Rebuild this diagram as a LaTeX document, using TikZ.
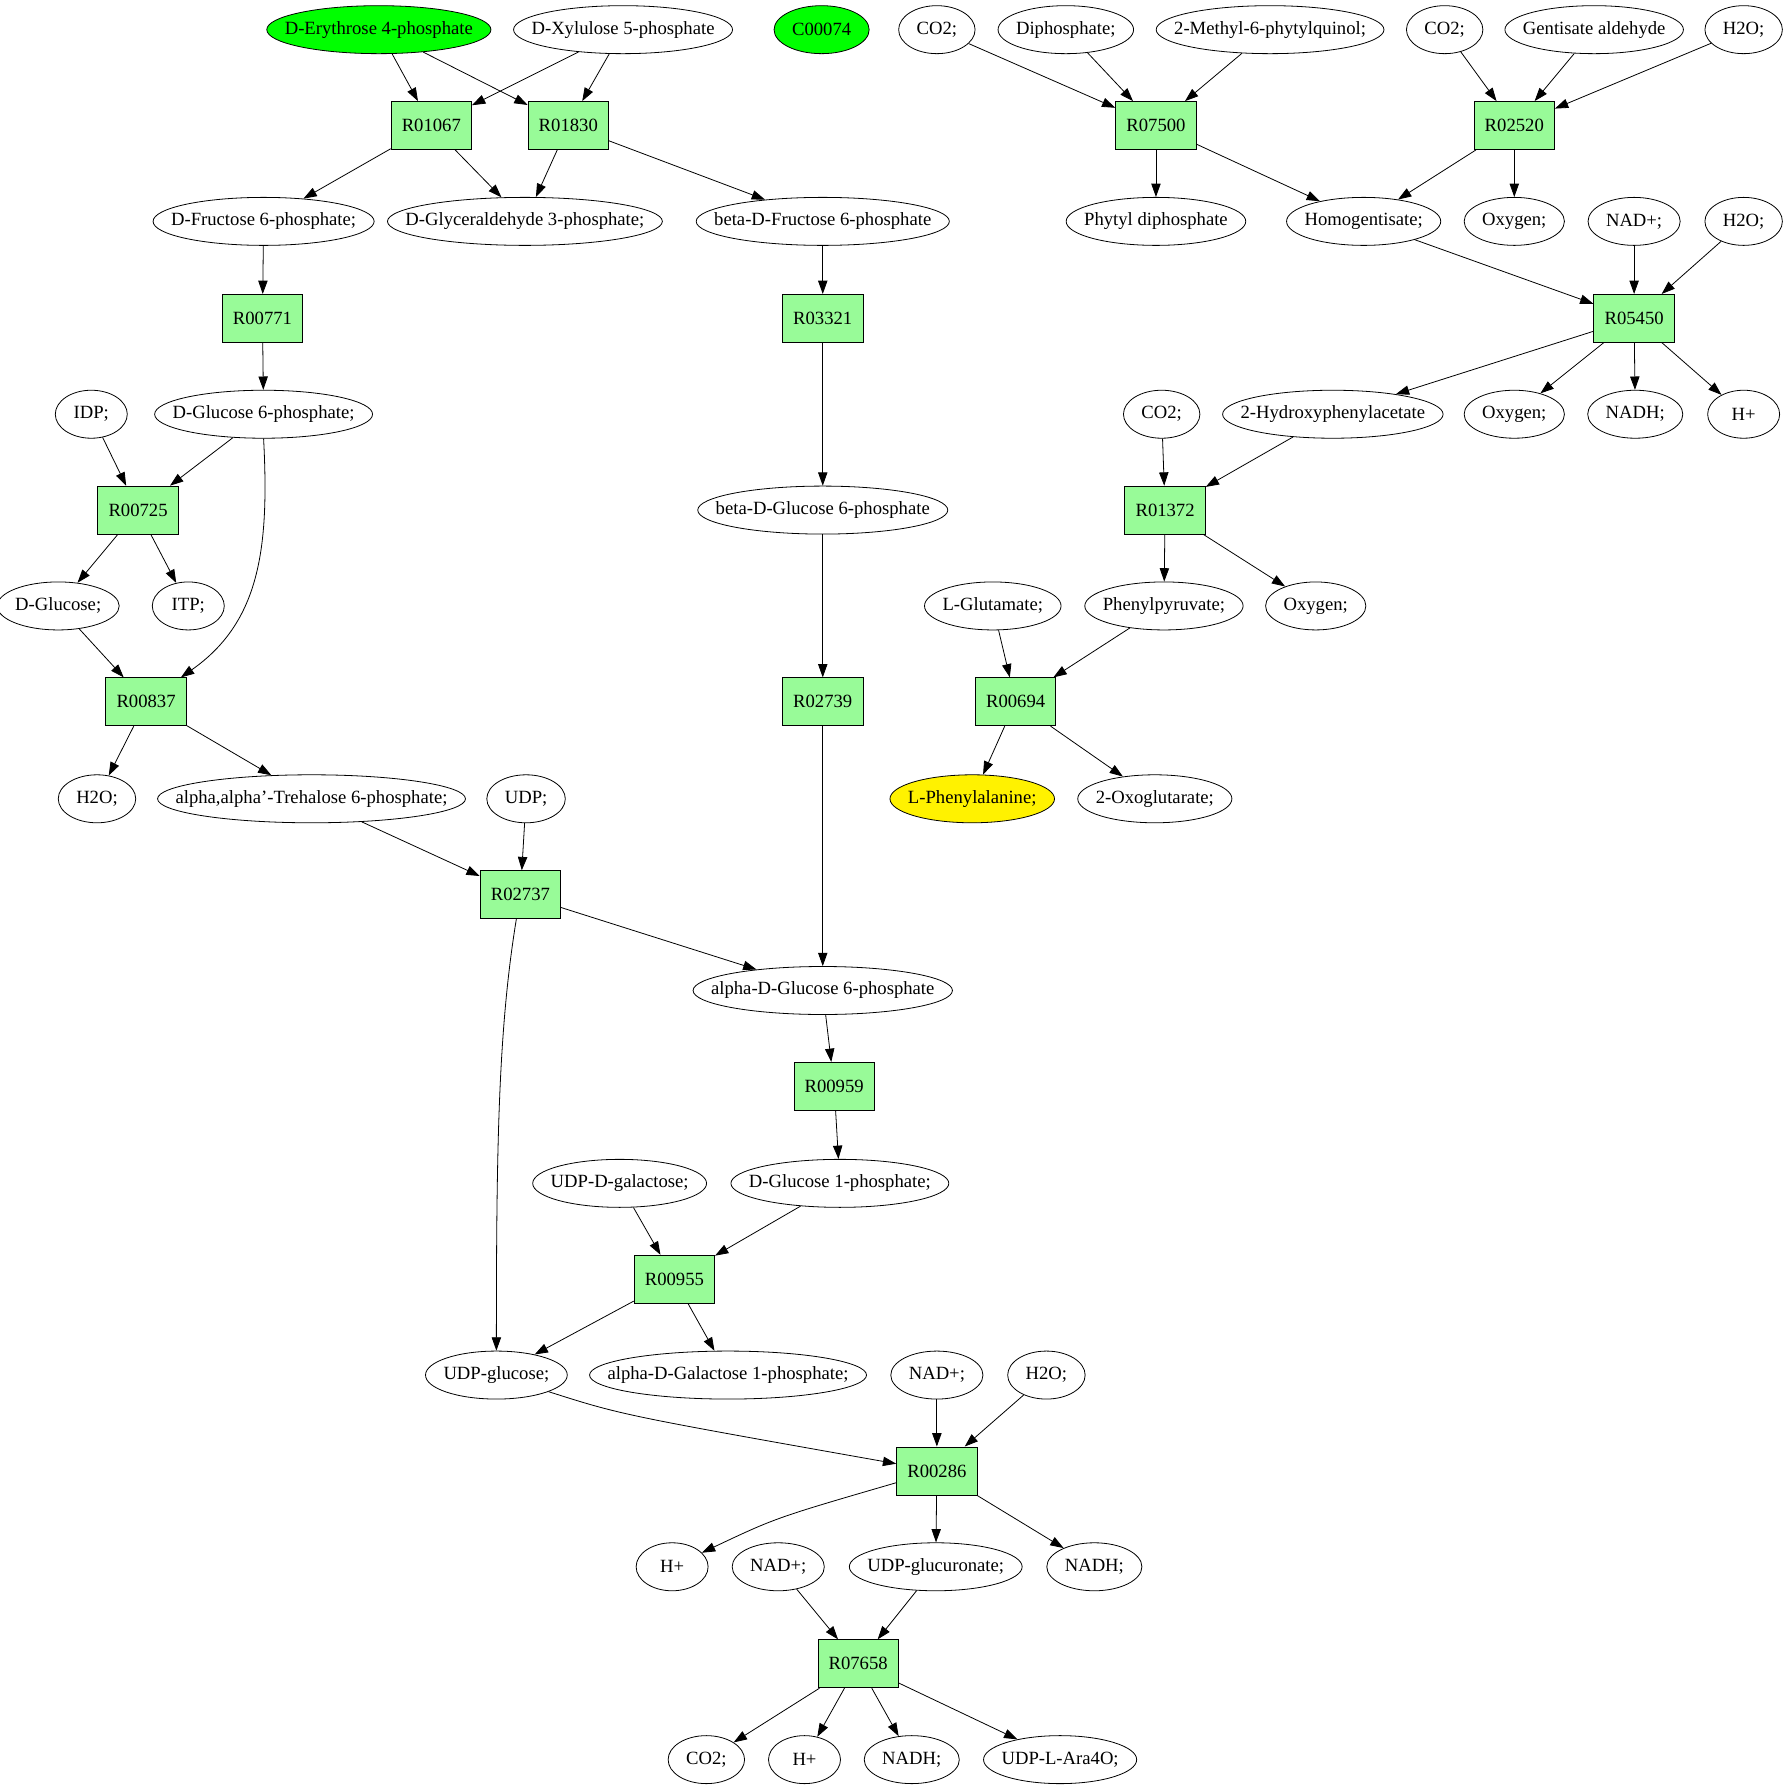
\documentclass[tikz,border=0pt]{standalone}
\usepackage{fontspec}
\setmainfont{Liberation Serif}
\usetikzlibrary{arrows.meta,shapes.geometric}
\definecolor{palegreen}{HTML}{98FB98}
\tikzset{
  met/.style={draw, ellipse, inner sep=0pt, minimum height=36pt,
    minimum width={max(54,width("#1")+27)}, node contents={\makebox[0pt]{#1}}},
  rxn/.style={draw, fill=palegreen, rectangle, minimum height=36pt,
    minimum width=54pt, inner xsep=8pt, inner ysep=0pt}
}
\begin{document}
\begin{tikzpicture}[x=0.856pt, y=-0.856pt, line width=0.6pt, >={Triangle[length=10pt,width=7pt]}]
\fontsize{14pt}{16pt}\selectfont
\useasboundingbox (0,0) rectangle (1566,1566);

\node (e4p) at (332,26) [fill=green, met={D-Erythrose 4-phosphate}];
\node (xu5p) at (546,26) [met={D-Xylulose 5-phosphate}];
\node (c00074) at (720,26) [fill=green, met={C00074}];
\node (co2a) at (821,26) [met={CO2;}];
\node (ppi) at (934,26) [met={Diphosphate;}];
\node (mpq) at (1113,26) [met={2-Methyl-6-phytylquinol;}];
\node (co2b) at (1266,26) [met={CO2;}];
\node (gald) at (1397,26) [met={Gentisate aldehyde}];
\node (h2oa) at (1528,26) [met={H2O;}];

\node[rxn] (r01067) at (378,110) {R01067};
\node[rxn] (r01830) at (498,110) {R01830};
\node[rxn] (r07500) at (1013,110) {R07500};
\node[rxn] (r02520) at (1327,110) {R02520};

\node (f6p) at (231,194) [met={D-Fructose 6-phosphate;}];
\node (gap) at (460,194) [met={D-Glyceraldehyde 3-phosphate;}];
\node (bf6p) at (721,194) [met={beta-D-Fructose 6-phosphate}];
\node (phytpp) at (1013,194) [met={Phytyl diphosphate}];
\node (hga) at (1195,194) [met={Homogentisate;}];
\node (o2a) at (1327,194) [met={Oxygen;}];
\node (nada) at (1432,194) [met={NAD+;}];
\node (h2ob) at (1528,194) [met={H2O;}];

\node[rxn] (r00771) at (230,279) {R00771};
\node[rxn] (r03321) at (721,279) {R03321};
\node[rxn] (r05450) at (1432,279) {R05450};

\node (idp) at (80,363) [met={IDP;}];
\node (g6p) at (231,363) [met={D-Glucose 6-phosphate;}];
\node (co2c) at (1018,363) [met={CO2;}];
\node (hpa) at (1168,363) [met={2-Hydroxyphenylacetate}];
\node (o2b) at (1327,363) [met={Oxygen;}];
\node (nadha) at (1433,363) [met={NADH;}];
\node (ha) at (1528,363) [met={H+}];

\node[rxn] (r00725) at (121,447) {R00725};
\node (bg6p) at (721,447) [met={beta-D-Glucose 6-phosphate}];
\node[rxn] (r01372) at (1021,447) {R01372};

\node (glc) at (51,531) [met={D-Glucose;}];
\node (itp) at (165,531) [met={ITP;}];
\node (glu) at (870,531) [met={L-Glutamate;}];
\node (ppyr) at (1020,531) [met={Phenylpyruvate;}];
\node (o2c) at (1153,531) [met={Oxygen;}];

\node[rxn] (r00837) at (128,615) {R00837};
\node[rxn] (r02739) at (721,615) {R02739};
\node[rxn] (r00694) at (890,615) {R00694};

\node (h2oc) at (85,700) [met={H2O;}];
\node (tre6p) at (273,700) [met={alpha,alpha'-Trehalose 6-phosphate;}];
\node (udp) at (461,700) [met={UDP;}];
\node (phe) at (852,700) [fill=yellow, met={L-Phenylalanine;}];
\node (akg) at (1012,700) [met={2-Oxoglutarate;}];

\node[rxn] (r02737) at (456,784) {R02737};
\node (ag6p) at (721,868) [met={alpha-D-Glucose 6-phosphate}];
\node[rxn] (r00959) at (731,952) {R00959};

\node (udpgal) at (543,1037) [met={UDP-D-galactose;}];
\node (g1p) at (736,1037) [met={D-Glucose 1-phosphate;}];
\node[rxn] (r00955) at (591,1121) {R00955};

\node (udpglc) at (435,1205) [met={UDP-glucose;}];
\node (agal1p) at (638,1205) [met={alpha-D-Galactose 1-phosphate;}];
\node (nadb) at (821,1205) [met={NAD+;}];
\node (h2od) at (917,1205) [met={H2O;}];

\node[rxn] (r00286) at (821,1289) {R00286};

\node (hb) at (589,1373) [met={H+}];
\node (nadc) at (682,1373) [met={NAD+;}];
\node (udpglcur) at (820,1373) [met={UDP-glucuronate;}];
\node (nadhb) at (959,1373) [met={NADH;}];

\node[rxn] (r07658) at (752,1458) {R07658};

\node (co2d) at (619,1542) [met={CO2;}];
\node (hc) at (705,1542) [met={H+}];
\node (nadhc) at (799,1542) [met={NADH;}];
\node (udpara) at (929,1542) [met={UDP-L-Ara4O;}];

\path[draw,->] (e4p) -- (r01067);
\path[draw,->] (e4p) -- (r01830);
\path[draw,->] (xu5p) -- (r01067);
\path[draw,->] (xu5p) -- (r01830);
\path[draw,->] (r01067) -- (f6p);
\path[draw,->] (r01067) -- (gap);
\path[draw,->] (r01830) -- (gap);
\path[draw,->] (r01830) -- (bf6p);

\path[draw,->] (f6p) -- (r00771);
\path[draw,->] (r00771) -- (g6p);
\path[draw,->] (bf6p) -- (r03321);
\path[draw,->] (r03321) -- (bg6p);

\path[draw,->] (idp) -- (r00725);
\path[draw,->] (g6p) -- (r00725);
\path[draw,->] (r00725) -- (glc);
\path[draw,->] (r00725) -- (itp);
\path[draw,->] (glc) -- (r00837);
\path[draw,->] (g6p.south) .. controls (236,480) and (228,545) .. (r00837);
\path[draw,->] (r00837) -- (h2oc);
\path[draw,->] (r00837) -- (tre6p);

\path[draw,->] (tre6p) -- (r02737);
\path[draw,->] (udp) -- (r02737);
\path[draw,->] (r02737) -- (ag6p);
\path[draw,->] (r02737) .. controls (437,900) and (435,1000) .. (udpglc);
\path[draw,->] (bg6p) -- (r02739);
\path[draw,->] (r02739) -- (ag6p);
\path[draw,->] (ag6p) -- (r00959);
\path[draw,->] (r00959) -- (g1p);

\path[draw,->] (udpgal) -- (r00955);
\path[draw,->] (g1p) -- (r00955);
\path[draw,->] (r00955) -- (udpglc);
\path[draw,->] (r00955) -- (agal1p);

\path[draw,->] (udpglc) .. controls (545,1240) .. (r00286);
\path[draw,->] (nadb) -- (r00286);
\path[draw,->] (h2od) -- (r00286);
\path[draw,->] (r00286) .. controls (680,1330) .. (hb);
\path[draw,->] (r00286) -- (udpglcur);
\path[draw,->] (r00286) -- (nadhb);

\path[draw,->] (nadc) -- (r07658);
\path[draw,->] (udpglcur) -- (r07658);
\path[draw,->] (r07658) -- (co2d);
\path[draw,->] (r07658) -- (hc);
\path[draw,->] (r07658) -- (nadhc);
\path[draw,->] (r07658) -- (udpara);

\path[draw,->] (co2a) -- (r07500);
\path[draw,->] (ppi) -- (r07500);
\path[draw,->] (mpq) -- (r07500);
\path[draw,->] (r07500) -- (phytpp);
\path[draw,->] (r07500) -- (hga);
\path[draw,->] (co2b) -- (r02520);
\path[draw,->] (gald) -- (r02520);
\path[draw,->] (h2oa) -- (r02520);
\path[draw,->] (r02520) -- (hga);
\path[draw,->] (r02520) -- (o2a);

\path[draw,->] (hga) -- (r05450);
\path[draw,->] (nada) -- (r05450);
\path[draw,->] (h2ob) -- (r05450);
\path[draw,->] (r05450) -- (hpa);
\path[draw,->] (r05450) -- (o2b);
\path[draw,->] (r05450) -- (nadha);
\path[draw,->] (r05450) -- (ha);

\path[draw,->] (co2c) -- (r01372);
\path[draw,->] (hpa) -- (r01372);
\path[draw,->] (r01372) -- (ppyr);
\path[draw,->] (r01372) -- (o2c);
\path[draw,->] (glu) -- (r00694);
\path[draw,->] (ppyr) -- (r00694);
\path[draw,->] (r00694) -- (phe);
\path[draw,->] (r00694) -- (akg);
\end{tikzpicture}
\end{document}
